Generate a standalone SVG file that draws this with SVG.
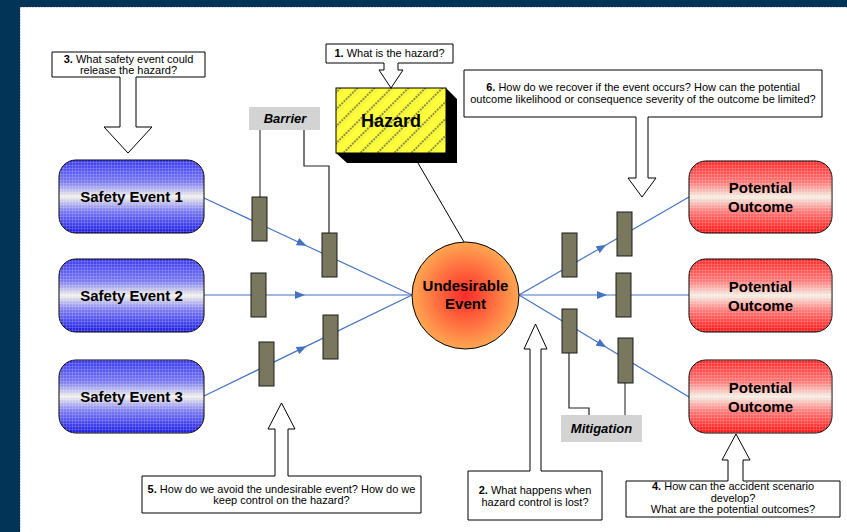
<svg xmlns="http://www.w3.org/2000/svg" width="847" height="532" viewBox="0 0 847 532">
<style>
text{font-family:"Liberation Sans",Arial,sans-serif;fill:#000;text-anchor:middle}
.call{fill:#fff;stroke:#000;stroke-width:1}
.ct{font-size:11px}
.big{font-size:15px;font-weight:bold}
.lbl{font-size:13px;font-weight:bold;font-style:italic}
.bar{fill:#79785F;stroke:#1a1a1a;stroke-width:1}
.conn{fill:none;stroke:#4472C4;stroke-width:1.2;marker-mid:url(#ah)}
.tie{fill:none;stroke:#222;stroke-width:1.2}
.tieg{fill:none;stroke:#666;stroke-width:1.5}
.box{stroke:#000;stroke-width:1}
</style>
<defs>
<marker id="ah" viewBox="0 0 10 8" refX="5" refY="4" markerWidth="10" markerHeight="8" markerUnits="userSpaceOnUse" orient="auto">
<path d="M0,0 L10,4 L0,8 Z" fill="#4472C4"/>
</marker>
<linearGradient id="gBlue" x1="0" y1="0" x2="0" y2="1">
<stop offset="0" stop-color="#3a3aee"/>
<stop offset="0.3" stop-color="#7a7af2"/>
<stop offset="0.5" stop-color="#f2f1ea"/>
<stop offset="0.7" stop-color="#7a7af2"/>
<stop offset="1" stop-color="#1c1ce4"/>
</linearGradient>
<linearGradient id="gRed" x1="0" y1="0" x2="0" y2="1">
<stop offset="0" stop-color="#ff2a2a"/>
<stop offset="0.3" stop-color="#ff7a78"/>
<stop offset="0.5" stop-color="#f4efe4"/>
<stop offset="0.7" stop-color="#ff7a78"/>
<stop offset="1" stop-color="#ff1414"/>
</linearGradient>
<radialGradient id="gCirc" cx="0.5" cy="0.5" r="0.5">
<stop offset="0" stop-color="#ff2a2a"/>
<stop offset="1" stop-color="#ffa752"/>
</radialGradient>
<pattern id="grid" width="3" height="3" patternUnits="userSpaceOnUse">
<path d="M0,0.5 H3 M0.5,0 V3" stroke="#fff" stroke-width="0.6" stroke-opacity="0.25" fill="none"/>
</pattern>
<pattern id="stripes" width="12" height="12" patternUnits="userSpaceOnUse" patternTransform="rotate(-45)">
<rect width="12" height="12" fill="#ffff3c"/>
<line x1="0" y1="3" x2="12" y2="3" stroke="#6a6a40" stroke-width="1.6" stroke-dasharray="2 1"/>
<line x1="0" y1="6" x2="12" y2="6" stroke="#e8e84a" stroke-width="0.8"/>
</pattern>
</defs>

<rect x="0" y="0" width="847" height="532" fill="#023457"/>
<rect x="20" y="7" width="827" height="525" fill="#fff"/>
<path d="M20.5,7.5 H847 M20.5,7.5 V532" fill="none" stroke="#9fb6cc" stroke-width="1" stroke-dasharray="1 2"/>

<g id="connectors">
<path class="conn" d="M204,198 L302,243.7 L412,295"/>
<path class="conn" d="M204,295 L300,295 L412,295"/>
<path class="conn" d="M204,396 L302,348.4 L412,295"/>
<path class="conn" d="M519,295 L602,247.2 L689,197"/>
<path class="conn" d="M519,295 L602,295 L689,295"/>
<path class="conn" d="M519,295 L602,344.8 L689,397"/>
<line x1="418" y1="163" x2="464" y2="242" stroke="#000" stroke-width="1"/>
<path class="tieg" d="M260,130 V197"/>
<path class="tie" d="M304,130 V166 H329 V233"/>
<path class="tie" d="M569,353 V408 H589 V415"/>
<path class="tieg" d="M625,383 V415"/>
</g>

<g id="barriers">
<rect class="bar" x="252" y="197" width="15" height="44"/>
<rect class="bar" x="322" y="233" width="15" height="44"/>
<rect class="bar" x="251" y="273" width="15" height="44"/>
<rect class="bar" x="259" y="342" width="15" height="44"/>
<rect class="bar" x="323" y="315" width="15" height="44"/>
<rect class="bar" x="562" y="233" width="15" height="44"/>
<rect class="bar" x="617" y="212" width="15" height="44"/>
<rect class="bar" x="616" y="273" width="15" height="44"/>
<rect class="bar" x="562" y="309" width="15" height="44"/>
<rect class="bar" x="618" y="338" width="15" height="45"/>
</g>

<g id="barrier-label">
<rect x="249" y="107" width="71" height="23" fill="#d3d3d3"/>
<text class="lbl" x="285" y="122.5">Barrier</text>
</g>
<g id="mitigation-label">
<rect x="561" y="415" width="81" height="27" fill="#d3d3d3"/>
<text class="lbl" x="601.5" y="433">Mitigation</text>
</g>

<g id="hazard">
<path d="M446,88 L457,99 L457,163 L347,163 L336,153 L446,153 Z" fill="#000"/>
<rect x="336" y="88" width="110" height="65" fill="url(#stripes)" stroke="#000" stroke-width="1"/>
<text x="391" y="127" style="font-size:18px;font-weight:bold">Hazard</text>
</g>

<g id="safety-event-1">
<rect class="box" x="59" y="160" width="145" height="73" rx="17" fill="url(#gBlue)"/>
<rect x="59" y="160" width="145" height="73" rx="17" fill="url(#grid)"/>
<text class="big" x="131.5" y="201.5">Safety Event 1</text>
</g>
<g id="safety-event-2">
<rect class="box" x="59" y="259" width="145" height="73" rx="17" fill="url(#gBlue)"/>
<rect x="59" y="259" width="145" height="73" rx="17" fill="url(#grid)"/>
<text class="big" x="131.5" y="300.5">Safety Event 2</text>
</g>
<g id="safety-event-3">
<rect class="box" x="59" y="360" width="145" height="73" rx="17" fill="url(#gBlue)"/>
<rect x="59" y="360" width="145" height="73" rx="17" fill="url(#grid)"/>
<text class="big" x="131.5" y="401.5">Safety Event 3</text>
</g>

<g id="undesirable-event">
<circle cx="465.5" cy="295.5" r="53.5" fill="url(#gCirc)" stroke="#000" stroke-width="1"/>
<text class="big" x="465.5" y="290.5">Undesirable</text>
<text class="big" x="465.5" y="308.5">Event</text>
</g>

<g id="outcome-1">
<rect class="box" x="689" y="161" width="143" height="72" rx="17" fill="url(#gRed)"/>
<rect x="689" y="161" width="143" height="72" rx="17" fill="url(#grid)"/>
<text class="big" x="760.5" y="192.5">Potential</text>
<text class="big" x="760.5" y="211.5">Outcome</text>
</g>
<g id="outcome-2">
<rect class="box" x="689" y="259" width="143" height="73" rx="17" fill="url(#gRed)"/>
<rect x="689" y="259" width="143" height="73" rx="17" fill="url(#grid)"/>
<text class="big" x="760.5" y="291.5">Potential</text>
<text class="big" x="760.5" y="310.5">Outcome</text>
</g>
<g id="outcome-3">
<rect class="box" x="689" y="360" width="143" height="73" rx="17" fill="url(#gRed)"/>
<rect x="689" y="360" width="143" height="73" rx="17" fill="url(#grid)"/>
<text class="big" x="760.5" y="392.5">Potential</text>
<text class="big" x="760.5" y="411.5">Outcome</text>
</g>

<g id="callout-1">
<path class="call" d="M326,44 H453 V63 H398 V70 H403 L391,88 L379,70 H384 V63 H326 Z"/>
<text class="ct" x="389.5" y="57"><tspan font-weight="bold">1.</tspan> What is the hazard?</text>
</g>
<g id="callout-3">
<path class="call" d="M52,52 H205 V77 H136 V127 H152 L128,153 L104,127 H120 V77 H52 Z"/>
<text class="ct" x="128.5" y="63"><tspan font-weight="bold">3.</tspan> What safety event could</text>
<text class="ct" x="128.5" y="73.5">release the hazard?</text>
</g>
<g id="callout-6">
<path class="call" d="M464,70 H822 V117 H648 V178 H656 L642,197 L628,178 H636 V117 H464 Z"/>
<text class="ct" x="643" y="91"><tspan font-weight="bold">6.</tspan> How do we recover if the event occurs? How can the potential</text>
<text class="ct" x="643" y="103">outcome likelihood or consequence severity of the outcome be limited?</text>
</g>
<g id="callout-5">
<path class="call" d="M142,476 H275 V429 H268 L281.5,403 L295,429 H288 V476 H421 V513 H142 Z"/>
<text class="ct" x="281.5" y="492.5"><tspan font-weight="bold">5.</tspan> How do we avoid the undesirable event? How do we</text>
<text class="ct" x="281.5" y="503.5">keep control on the hazard?</text>
</g>
<g id="callout-2">
<path class="call" d="M468,471 H530 V349 H524 L535.5,324 L547,349 H541 V471 H602 V520 H468 Z"/>
<text class="ct" x="535" y="494"><tspan font-weight="bold">2.</tspan> What happens when</text>
<text class="ct" x="535" y="505.5">hazard control is lost?</text>
</g>
<g id="callout-4">
<path class="call" d="M626,481 H728 V460 H722 L736,434 L750,460 H743 V481 H840 V517 H626 Z"/>
<text class="ct" x="733" y="490"><tspan font-weight="bold">4.</tspan> How can the accident scenario</text>
<text class="ct" x="733" y="501.5">develop?</text>
<text class="ct" x="733" y="513">What are the potential outcomes?</text>
</g>
</svg>
